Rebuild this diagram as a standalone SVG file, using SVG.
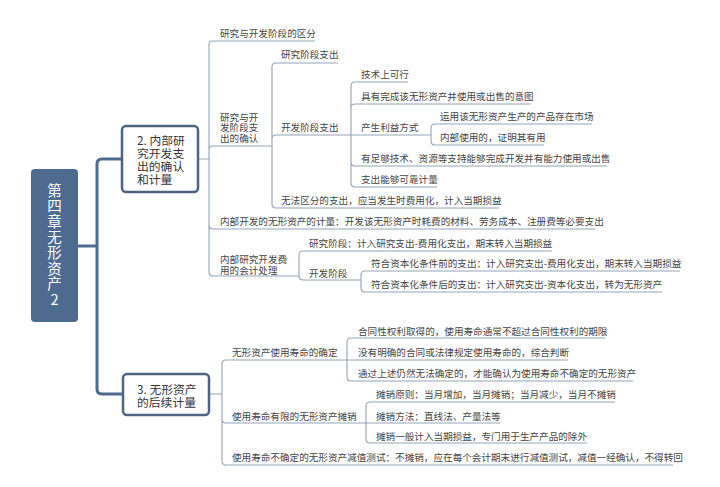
<svg xmlns="http://www.w3.org/2000/svg" width="720" height="487" viewBox="0 0 720 487">
<style>
.t{font-family:"Noto Sans CJK SC","Noto Sans",sans-serif;font-size:9.6px;fill:#444}
.n{font-family:"Noto Sans CJK SC","Noto Sans",sans-serif;font-size:11.8px;fill:#333}
.r{font-family:"Noto Sans CJK SC","Noto Sans",sans-serif;font-size:14.5px;fill:#fff;writing-mode:vertical-rl;text-orientation:upright;letter-spacing:1.1px}
.main{fill:none;stroke:#4d6b8f;stroke-width:3;stroke-linecap:round}
.c{fill:none;stroke:#93a3b6;stroke-width:1.1}
.box{fill:#fff;stroke:#4d6580;stroke-width:2.5}
</style>
<rect width="720" height="487" fill="#fff"/>
<g id="connectors">
<path class="main" d="M78,246 H97 M97,246 V164 Q97,159 102,159 H122 M97,246 V389 Q97,394 102,394 H123"/>
<path class="c" d="M198,159 H209 M209,159 V45 Q209,41 213,41 H315 M209,159 V150 Q209,146 213,146 H272 M209,159 V225 Q209,229 213,229 H595 M209,159 V272 Q209,276 213,276 H299"/>
<path class="c" d="M272,146 V67 Q272,63 276,63 H338 M272,146 V139 Q272,135 276,135 H351 M272,146 V204 Q272,208 276,208 H499"/>
<path class="c" d="M351,135 V86 Q351,82 355,82 H408 M351,135 V108 Q351,104 355,104 H531 M351,135 H431 M351,135 V162 Q351,166 355,166 H607 M351,135 V183 Q351,187 355,187 H437"/>
<path class="c" d="M431,135 V128 Q431,124 435,124 H592 M431,135 V141 Q431,145 435,145 H544"/>
<path class="c" d="M299,276 V255 Q299,251 303,251 H552 M299,276 V276 Q299,280 303,280 H361"/>
<path class="c" d="M361,280 V275 Q361,271 365,271 H680 M361,280 V288 Q361,292 365,292 H662"/>
<path class="c" d="M209,394 H222 M222,394 V364 Q222,360 226,360 H347 M222,394 V419 Q222,423 226,423 H366 M222,394 V461 Q222,465 226,465 H673"/>
<path class="c" d="M347,360 V342 Q347,338 351,338 H605 M347,360 H568 M347,360 V377 Q347,381 351,381 H633"/>
<path class="c" d="M366,423 V406 Q366,402 370,402 H615 M366,423 H500 M366,423 V439 Q366,443 370,443 H587"/>
</g>
<g id="root">
<rect x="31" y="169" width="47" height="153" rx="4" fill="#4d6b8f"/>
<text class="r" x="54.5" y="183">第四章无形资产2</text>
</g>
<g id="node2">
<rect class="box" x="122" y="126" width="76" height="66" rx="4"/>
<text class="n"><tspan x="137" y="145">2. 内部研</tspan><tspan x="137" y="158">究开发支</tspan><tspan x="137" y="171">出的确认</tspan><tspan x="137" y="184">和计量</tspan></text>
</g>
<g id="node3">
<rect class="box" x="123" y="374" width="86" height="41" rx="4"/>
<text class="n"><tspan x="137" y="393.5">3. 无形资产</tspan><tspan x="137" y="406.5">的后续计量</tspan></text>
</g>
<g id="n2-1"><text class="t" x="220" y="36.5">研究与开发阶段的区分</text></g>
<g id="n2-2">
<text class="t"><tspan x="220" y="120.5">研究与开</tspan><tspan x="220" y="131">发阶段支</tspan><tspan x="220" y="141.5">出的确认</tspan></text>
</g>
<g id="n2-2-1"><text class="t" x="281" y="58">研究阶段支出</text></g>
<g id="n2-2-2"><text class="t" x="281" y="130.5">开发阶段支出</text></g>
<g id="n2-2-2-1"><text class="t" x="361" y="77.5">技术上可行</text></g>
<g id="n2-2-2-2"><text class="t" x="361" y="99.5">具有完成该无形资产并使用或出售的意图</text></g>
<g id="n2-2-2-3"><text class="t" x="361" y="130.5">产生利益方式</text></g>
<g id="n2-2-2-3-1"><text class="t" x="440" y="119.5">运用该无形资产生产的产品存在市场</text></g>
<g id="n2-2-2-3-2"><text class="t" x="440" y="140.5">内部使用的，证明其有用</text></g>
<g id="n2-2-2-4"><text class="t" x="361" y="161.5">有足够技术、资源等支持能够完成开发并有能力使用或出售</text></g>
<g id="n2-2-2-5"><text class="t" x="361" y="182.5">支出能够可靠计量</text></g>
<g id="n2-2-3"><text class="t" x="281" y="203.5">无法区分的支出，应当发生时费用化，计入当期损益</text></g>
<g id="n2-3"><text class="t" x="220" y="224.5">内部开发的无形资产的计量：开发该无形资产时耗费的材料、劳务成本、注册费等必要支出</text></g>
<g id="n2-4">
<text class="t"><tspan x="220" y="262.5">内部研究开发费</tspan><tspan x="220" y="273.5">用的会计处理</tspan></text>
</g>
<g id="n2-4-1"><text class="t" x="309" y="247">研究阶段：计入研究支出-费用化支出，期末转入当期损益</text></g>
<g id="n2-4-2"><text class="t" x="309" y="276.5">开发阶段</text></g>
<g id="n2-4-2-1"><text class="t" x="371" y="267">符合资本化条件前的支出：计入研究支出-费用化支出，期末转入当期损益</text></g>
<g id="n2-4-2-2"><text class="t" x="371" y="287.5">符合资本化条件后的支出：计入研究支出-资本化支出，转为无形资产</text></g>
<g id="n3-1"><text class="t" x="232" y="356">无形资产使用寿命的确定</text></g>
<g id="n3-1-1"><text class="t" x="358" y="334.5">合同性权利取得的，使用寿命通常不超过合同性权利的期限</text></g>
<g id="n3-1-2"><text class="t" x="358" y="356">没有明确的合同或法律规定使用寿命的，综合判断</text></g>
<g id="n3-1-3"><text class="t" x="358" y="377">通过上述仍然无法确定的，才能确认为使用寿命不确定的无形资产</text></g>
<g id="n3-2"><text class="t" x="232" y="419.5">使用寿命有限的无形资产摊销</text></g>
<g id="n3-2-1"><text class="t" x="376" y="398">摊销原则：当月增加，当月摊销；当月减少，当月不摊销</text></g>
<g id="n3-2-2"><text class="t" x="376" y="419.5">摊销方法：直线法、产量法等</text></g>
<g id="n3-2-3"><text class="t" x="376" y="439.5">摊销一般计入当期损益，专门用于生产产品的除外</text></g>
<g id="n3-3"><text class="t" x="232" y="460.5">使用寿命不确定的无形资产减值测试：不摊销，应在每个会计期末进行减值测试，减值一经确认，不得转回</text></g>
</svg>
